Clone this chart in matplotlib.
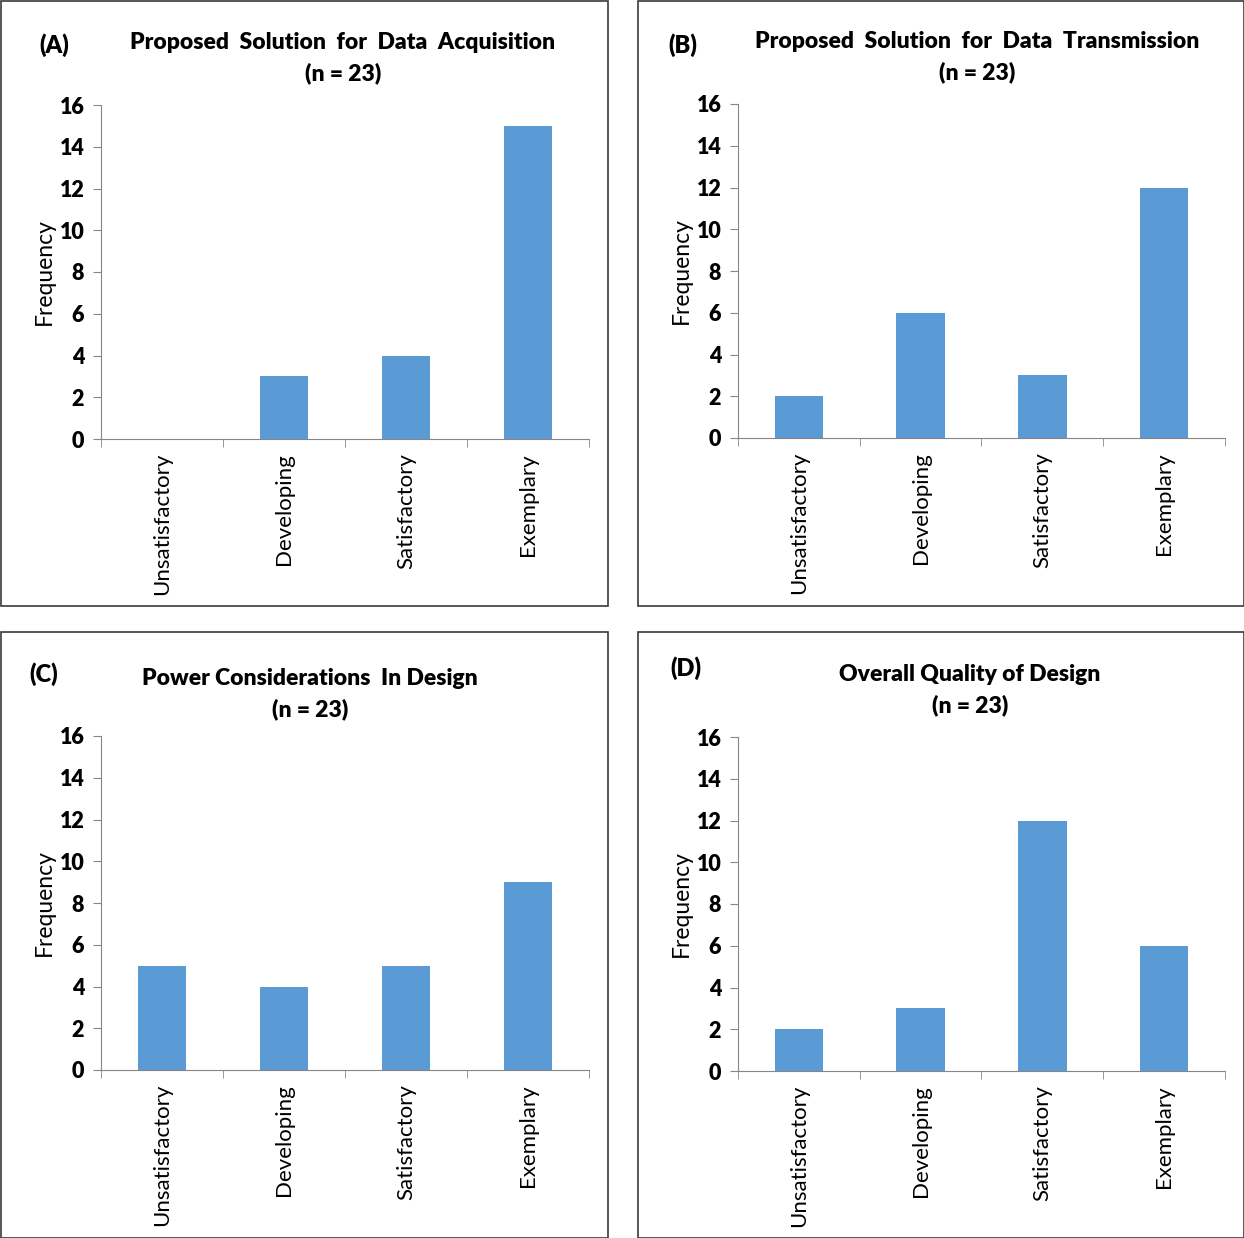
import matplotlib.pyplot as plt
from matplotlib.patches import Rectangle

W, H = 1244, 1238

categories = ['Unsatisfactory', 'Developing', 'Satisfactory', 'Exemplary']
acquisition = [0, 3, 4, 15]
transmission = [2, 6, 3, 12]
power = [5, 4, 5, 9]
overall = [2, 3, 12, 6]

panel_labels = ['(A)', '(B)', '(C)', '(D)']
titles = ['Proposed  Solution  for  Data  Acquisition\n(n = 23)',
          'Proposed  Solution  for  Data  Transmission\n(n = 23)',
          'Power Considerations  In Design\n(n = 23)',
          'Overall Quality of Design\n(n = 23)']
series = [acquisition, transmission, power, overall]

plt.rcParams['font.family'] = ['Lato', 'DejaVu Sans']
BOLD = 'heavy'

fig = plt.figure(figsize=(W / 100, H / 100), dpi=100)

# pixel layouts: box (x0, y0, x1, y1), axes (left, top, right, bottom),
# label pos, title centre
boxes = [(1, 1, 608, 606), (638, 1, 1244, 606),
         (1, 632, 608, 1238), (638, 632, 1244, 1238)]
axes_px = [(101, 105, 589, 439), (738, 104, 1225, 438),
           (101, 736, 589, 1070), (738, 737, 1225, 1071)]
label_px = [(54, 45), (683, 45), (44, 674), (686, 668)]
title_px = [(343, 58), (977, 57), (310, 694), (970, 690)]


def fx(x):
    return x / W


def fy(y):
    return 1 - y / H


axis_grey = '#868686'

for i in range(4):
    x0, y0, x1, y1 = boxes[i]
    fig.patches.append(Rectangle((fx(x0), fy(y1)), fx(x1 - x0), (y1 - y0) / H,
                                 transform=fig.transFigure, fill=False,
                                 edgecolor='#3a3a3a', linewidth=1.2))
    l, t, r, b = axes_px[i]
    ax = fig.add_axes([fx(l), fy(b), fx(r - l), (b - t) / H])
    ax.bar(range(4), series[i], width=0.4, color='#5B9BD5')
    ax.set_xlim(-0.5, 3.5)
    ax.set_ylim(0, 16)
    ax.set_yticks(range(0, 17, 2))
    ax.set_yticklabels([str(v) for v in range(0, 17, 2)],
                       fontsize=15.5, fontweight=BOLD)
    ax.set_xticks(range(4))
    ax.set_xticklabels(categories, rotation=90, fontsize=16)
    ax.set_xticks([-0.5, 0.5, 1.5, 2.5, 3.5], minor=True)
    ax.tick_params(axis='x', which='major', length=0, pad=10)
    ax.tick_params(axis='x', which='minor', length=6, color=axis_grey, direction='out')
    ax.tick_params(axis='y', length=6, color=axis_grey, pad=6)
    for s in ['top', 'right']:
        ax.spines[s].set_visible(False)
    for s in ['left', 'bottom']:
        ax.spines[s].set_color(axis_grey)
    ax.set_ylabel('Frequency', fontsize=16.5, labelpad=3)

    lx, ly = label_px[i]
    fig.text(fx(lx), fy(ly), panel_labels[i], fontsize=17, fontweight=BOLD,
             ha='center', va='center')
    tx, ty = title_px[i]
    fig.text(fx(tx), fy(ty), titles[i], fontsize=16.5, fontweight=BOLD,
             ha='center', va='center', linespacing=1.55)

fig.savefig('out.png', dpi=100)
